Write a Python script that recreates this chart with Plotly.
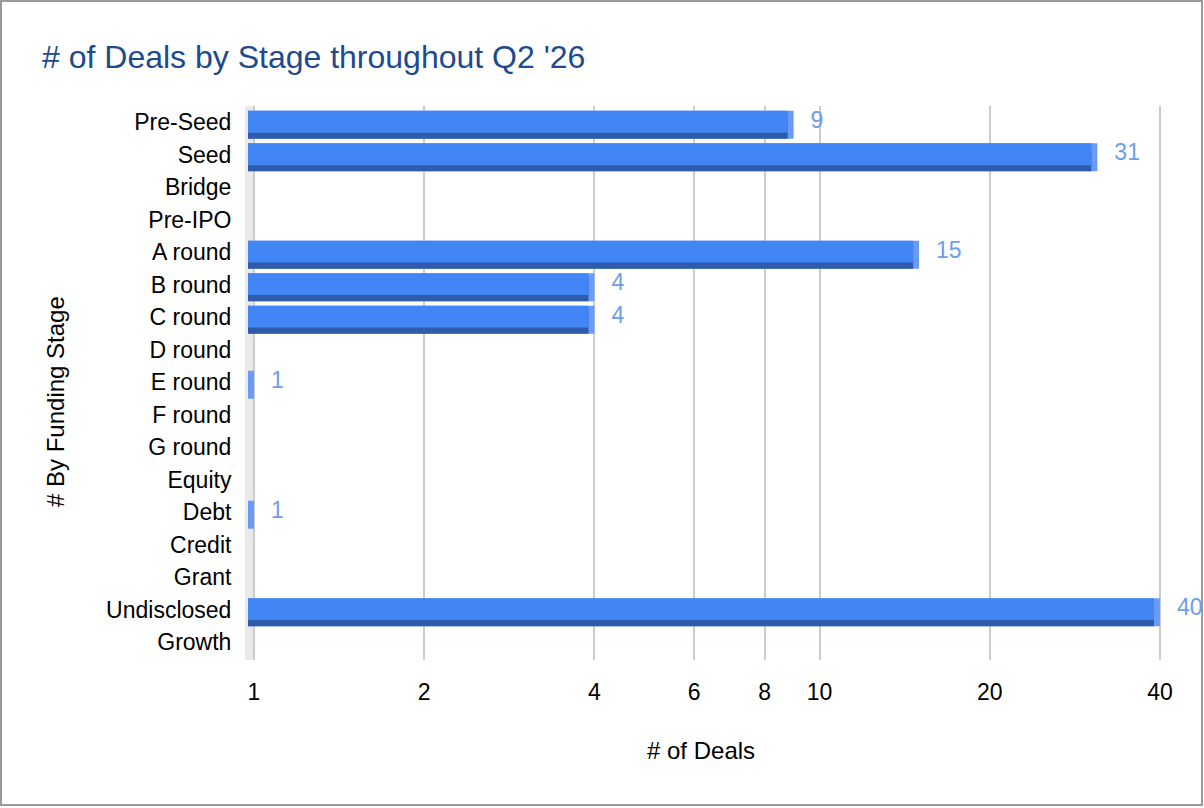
import plotly.graph_objects as go

categories = ["Pre-Seed", "Seed", "Bridge", "Pre-IPO", "A round", "B round", "C round",
              "D round", "E round", "F round", "G round", "Equity", "Debt", "Credit",
              "Grant", "Undisclosed", "Growth"]
deals = [9, 31, 0, 0, 15, 4, 4, 0, 1, 0, 0, 0, 1, 0, 0, 40, 0]
x_tick_vals = [1, 2, 4, 6, 8, 10, 20, 40]

TITLE = "# of Deals by Stage throughout Q2 '26"
X_TITLE = "# of Deals"
Y_TITLE = "# By Funding Stage"

W, H = 1204, 808
ML, MR, MT, MB = 248, 24, 106, 148
PW, PH = W - ML - MR, H - MT - MB

FONT = "Liberation Sans, Arial, sans-serif"
FACE = "#4285F4"
DARK = "#2E5BAA"
SIDE = "#6A9BF6"
LABEL = "#6D9EEB"

# pixels per decade on the log axis
PPD = 565.5
shift = 6 / PPD        # front face drawn 6px left of the back plane
lab_shift = 17 / PPD   # data labels drawn 17px right of the bar end
r0 = -6 / PPD
r1 = r0 + PW / PPD

idx = [i for i, v in enumerate(deals) if v > 0]
ys = idx
xs = [deals[i] for i in idx]

fig = go.Figure()

# right side (bevel) of 3D bars, on unshifted axis
fig.add_trace(go.Bar(orientation="h", y=ys, x=xs, xaxis="x", yaxis="y",
                     marker=dict(color=SIDE, line=dict(width=0)),
                     offset=-0.35, width=0.86, hoverinfo="skip", showlegend=False))
# bottom face
fig.add_trace(go.Bar(orientation="h", y=ys, x=xs, xaxis="x2", yaxis="y",
                     marker=dict(color=DARK, line=dict(width=0)),
                     offset=-0.22, width=0.73, hoverinfo="skip", showlegend=False))
# front face
fig.add_trace(go.Bar(orientation="h", y=ys, x=xs, xaxis="x2", yaxis="y",
                     marker=dict(color=FACE, line=dict(width=0)),
                     offset=-0.35, width=0.67, showlegend=False))
# data labels
fig.add_trace(go.Scatter(x=xs, y=ys, mode="text", text=[str(v) for v in xs],
                         textposition="middle right", xaxis="x3", yaxis="y",
                         textfont=dict(family=FONT, size=23, color=LABEL),
                         cliponaxis=False, hoverinfo="skip", showlegend=False))

fig.update_layout(
    width=W, height=H,
    margin=dict(l=ML, r=MR, t=MT, b=MB),
    paper_bgcolor="white", plot_bgcolor="white",
    barmode="overlay",
    font=dict(family=FONT, size=23, color="#000000"),
    title=dict(text=TITLE, x=42 / W, xanchor="left", y=1 - 57 / H, yanchor="middle",
               font=dict(family=FONT, size=32, color="#214A8D")),
    xaxis=dict(type="log", range=[r0, r1], tickvals=x_tick_vals,
               ticktext=[str(v) for v in x_tick_vals],
               showgrid=True, gridcolor="#CCCCCC", gridwidth=1.5,
               zeroline=False, showline=False,
               ticks="outside", ticklen=11, tickcolor="rgba(0,0,0,0)",
               tickfont=dict(family=FONT, size=23, color="#000000")),
    xaxis2=dict(type="log", range=[r0 + shift, r1 + shift], overlaying="x",
                showgrid=False, showticklabels=False, zeroline=False, showline=False),
    xaxis3=dict(type="log", range=[r0 - lab_shift, r1 - lab_shift], overlaying="x",
                showgrid=False, showticklabels=False, zeroline=False, showline=False),
    yaxis=dict(range=[16.55, -0.5], tickvals=list(range(len(categories))),
               ticktext=categories, showgrid=False, zeroline=False, showline=False,
               ticks="outside", ticklen=11, tickcolor="rgba(0,0,0,0)",
               tickfont=dict(family=FONT, size=23, color="#000000")),
    shapes=[
        dict(type="rect", xref="paper", yref="paper",
             x0=-3 / PW, x1=6 / PW, y0=0, y1=1,
             fillcolor="#E9E9E9", line=dict(width=0), layer="below"),
        dict(type="rect", xref="paper", yref="paper",
             x0=(1 - ML) / PW, x1=1 + (MR - 2) / PW,
             y0=-(MB - 3) / PH, y1=1 + (MT - 1) / PH,
             fillcolor="rgba(0,0,0,0)", line=dict(color="#9A9A9A", width=2), layer="above"),
    ],
    annotations=[
        dict(text=X_TITLE, xref="paper", yref="paper", x=(701 - ML) / PW,
             y=-(750 - MT - PH) / PH, xanchor="center", yanchor="middle",
             showarrow=False, font=dict(family=FONT, size=24, color="#000000")),
        dict(text=Y_TITLE, xref="paper", yref="paper", x=-(ML - 55) / PW,
             y=1 - (402 - MT) / PH, xanchor="center", yanchor="middle", textangle=-90,
             showarrow=False, font=dict(family=FONT, size=24, color="#000000")),
    ],
)

fig.write_html("out.html", config={"displayModeBar": False},
               post_script="document.body.style.margin='0';document.body.style.overflow='hidden';")
